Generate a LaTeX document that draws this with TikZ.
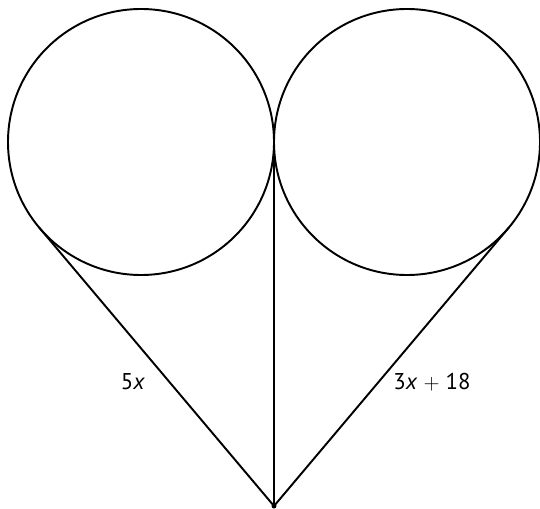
\documentclass[tikz,border=0pt]{standalone}
\usepackage{fontspec}
\setmainfont{PT Sans}
\usetikzlibrary{calc}

\begin{document}
\begin{tikzpicture}[line width=1.1pt,
  ring/.style={circle,draw,line width=1.1pt,inner sep=0pt,outer sep=0pt,minimum size=5.32cm},
  lbl/.style={font=\fontsize{13}{15}\selectfont}]
\useasboundingbox (0,0) rectangle (10.8,10.16);
% ================= the two touching circles =================
\node[ring] (L) at (2.82,7.32) {};
\node[ring] (R) at (8.14,7.32) {};
% common point at the bottom
\coordinate (P) at (5.48,0.04);
\fill (P) circle (0.05);
% vertical segment through the touching point
\draw (L.east) -- (P);
% tangent segments
\draw (tangent cs:node=L,point={(P)},solution=2) -- (P);
\draw (tangent cs:node=R,point={(P)},solution=1) -- (P);
% ================= labels =================
\node[lbl] (a) at (2.66,2.52) {5\textit{x}};
\node[lbl] (b) at (8.64,2.52) {3\textit{x} $+$ 18};
\end{tikzpicture}
\end{document}
